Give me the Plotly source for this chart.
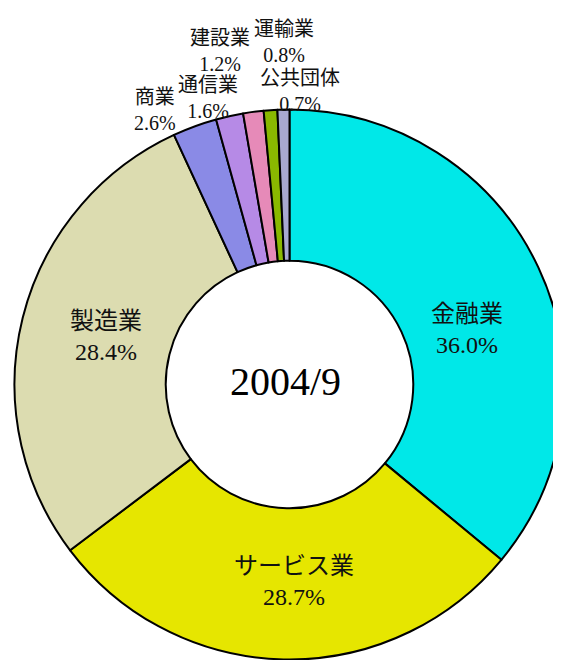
import plotly.graph_objects as go

# Data
categories = ["金融業", "サービス業", "製造業", "商業", "通信業", "建設業", "運輸業", "公共団体"]
shares = [36.0, 28.7, 28.4, 2.6, 1.6, 1.2, 0.8, 0.7]
center_label = "2004/9"

colors = ["#00E8E8", "#E6E600", "#DCDCB0", "#8A8AE6", "#B68AE6", "#E68AB8", "#8AB800", "#A8A8D0"]

W, H = 561, 660
OFF = 8  # page body margin offset
FONT = "Liberation Serif, Noto Sans CJK JP, serif"

cx, cy, r = 289.5 - OFF, 384.5 - OFF, 275

fig = go.Figure()
fig.add_trace(go.Pie(
    labels=categories,
    values=shares,
    sort=False,
    direction="clockwise",
    rotation=0,
    hole=0.45,
    marker=dict(colors=colors, line=dict(color="black", width=2)),
    textinfo="none",
    showlegend=False,
    hoverinfo="label+value",
    domain=dict(x=[(cx - r) / W, (cx + r) / W], y=[1 - (cy + r) / H, 1 - (cy - r) / H]),
))

# Label block centres (page pixels)
label_pos = {
    "金融業": (467, 329.5, 24),
    "サービス業": (294, 581, 24),
    "製造業": (106, 336, 24),
    "商業": (155, 109.5, 20),
    "通信業": (208, 98.5, 20),
    "建設業": (220, 50.5, 20),
    "運輸業": (284, 42.5, 20),
    "公共団体": (300, 90.5, 20),
}
annotations = []
for cat, val in zip(categories, shares):
    px, py, fs = label_pos[cat]
    annotations.append(dict(
        x=(px - OFF) / W, y=1 - (py - OFF) / H, xref="paper", yref="paper",
        text=f"{cat}<br>{val:.1f}%", showarrow=False,
        font=dict(family=FONT, size=fs, color="#111111"),
        xanchor="center", yanchor="middle", align="center",
    ))

annotations.append(dict(
    x=(285 - OFF) / W, y=1 - (381 - OFF) / H, xref="paper", yref="paper",
    text=center_label, showarrow=False,
    font=dict(family=FONT, size=40, color="black"),
    xanchor="center", yanchor="middle",
))

fig.update_layout(
    width=W, height=H,
    margin=dict(l=0, r=0, t=0, b=0),
    paper_bgcolor="white",
    plot_bgcolor="white",
    annotations=annotations,
)

fig.write_html("out.html")
